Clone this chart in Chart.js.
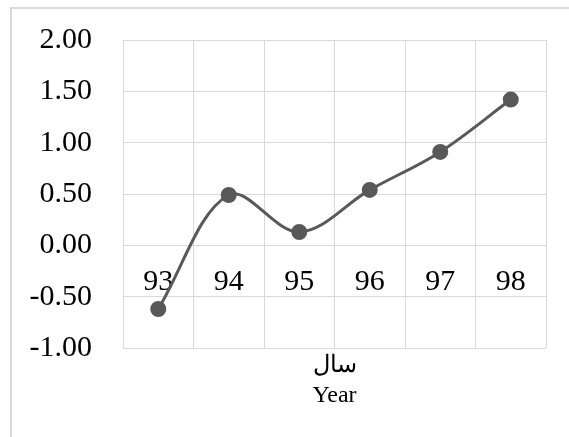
<!DOCTYPE html>
<html>
<head>
<meta charset="utf-8">
<script src="https://cdn.jsdelivr.net/npm/chart.js@4/dist/chart.umd.min.js"></script>
<style>
    html, body { margin: 0; padding: 0; background: #fff; }
    #wrap { position: relative; width: 569px; height: 437px; overflow: hidden; }
    #frame { position: absolute; left: 10px; top: 7px; width: 600px; height: 500px;
             border-left: 2px solid #d9d9d9; border-top: 2px solid #d9d9d9; }
    canvas { position: absolute; left: 0; top: 0; }
</style>
</head>
<body>
<div id="wrap">
    <div id="frame"></div>
    <canvas id="myChart" width="569" height="437"></canvas>
</div>
<script>
const years = ['93', '94', '95', '96', '97', '98'];
const values = [-0.62, 0.49, 0.13, 0.54, 0.91, 1.42];
const axisTitle = ['سال', 'Year'];

const serif = 'Liberation Serif, Times New Roman, serif';

const data = {
    labels: years,
    datasets: [{
        data: values,
        borderColor: '#595959',
        backgroundColor: '#595959',
        borderWidth: 3,
        pointRadius: 6.5,
        pointHoverRadius: 6.5,
        tension: 0.35,
    }]
};

const config = {
    type: 'line',
    data: data,
    options: {
        responsive: false,
        animation: false,
        layout: { padding: { top: 40, right: 23, bottom: 0, left: 0 } },
        plugins: { legend: { display: false }, tooltip: { enabled: false } },
        scales: {
            x: {
                type: 'category',
                position: { y: 0 },
                offset: true,
                grid: { offset: true, color: '#d9d9d9', lineWidth: 1, drawTicks: false },
                border: { display: true, color: '#d9d9d9' },
                ticks: { padding: 19, color: '#000', font: { family: serif, size: 30 } }
            },
            x2: {
                type: 'category',
                labels: years,
                position: 'bottom',
                grid: { display: false },
                border: { display: false },
                ticks: { display: false },
                title: {
                    display: true,
                    text: axisTitle,
                    color: '#000',
                    font: { family: serif, size: 24, lineHeight: 1.25 },
                    padding: { top: 0, bottom: 26 }
                },
                afterFit: scale => { scale.height = 89; }
            },
            y: {
                min: -1,
                max: 2,
                grid: { color: '#d9d9d9', lineWidth: 1, drawTicks: false },
                border: { display: true, color: '#d9d9d9' },
                ticks: {
                    stepSize: 0.5,
                    padding: 31,
                    color: '#000',
                    font: { family: serif, size: 30 },
                    callback: v => v.toFixed(2)
                },
                afterFit: scale => {
                    scale.width = 123;
                    scale.paddingTop = 0;
                    scale.paddingBottom = 0;
                }
            }
        }
    }
};

const myChart = new Chart(document.getElementById('myChart'), config);
</script>
</body>
</html>
